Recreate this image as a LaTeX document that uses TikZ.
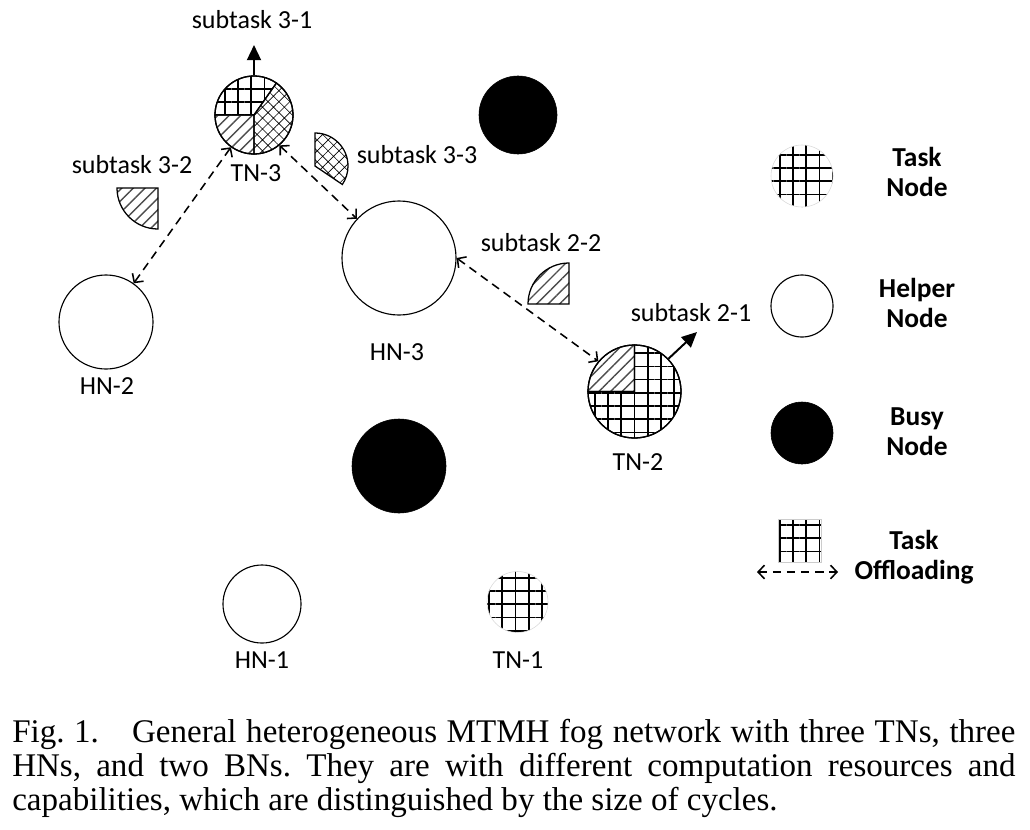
\documentclass[tikz,border=0pt]{standalone}
\usepackage{fontspec}
\setmainfont{Liberation Serif}
\newfontfamily\labelfont{Carlito}
\usetikzlibrary{arrows.meta,patterns.meta}

\begin{document}
\begin{tikzpicture}[x=0.025cm,y=0.025cm,
  txt/.style={font=\labelfont\fontsize{18.5}{21}\selectfont, inner sep=0},
  legtxt/.style={font=\labelfont\bfseries\fontsize{19.5}{21.5}\selectfont, align=center, inner sep=0},
  helper/.style={draw, circle, line width=0.8pt, inner sep=0},
  busy/.style={draw, circle, fill=black, inner sep=0},
  task/.style={draw, circle, line width=0.9pt, inner sep=0},
  gridfill/.style={pattern={Hatch[angle=0,distance=9.4pt,line width=1.2pt]}},
  hatchfill/.style={pattern={Lines[angle=45,distance=5.8pt,line width=1pt]}, pattern color=black!70},
  crossfill/.style={pattern={Hatch[angle=45,distance=5.5pt,line width=0.45pt]}},
  offload/.style={draw, line width=1.1pt, dash pattern=on 6pt off 4pt,
    {Straight Barb[length=1.6mm,width=3.4mm]}-{Straight Barb[length=1.6mm,width=3.4mm]}},
  subtask/.style={draw, line width=1.4pt, -{Triangle[length=3.8mm,width=3.5mm]}}
]
\useasboundingbox (0,0) rectangle (1030,-829);

% nodes
\node[task, minimum size=1.95cm] (tn3) at (254,-115) {};
\node[task, minimum size=2.325cm] (tn2) at (634.5,-391.5) {};
\node[circle, draw=black!15, gridfill, inner sep=0, minimum size=1.525cm] (tn1) at (517.5,-602) {};
\node[helper, minimum size=2.35cm] (hn2) at (106,-322) {};
\node[helper, minimum size=2.85cm] (hn3) at (399,-258) {};
\node[helper, minimum size=1.95cm] (hn1) at (262,-604) {};
\node[busy, minimum size=1.95cm] (bn1) at (518,-115) {};
\node[busy, minimum size=2.35cm] (bn2) at (399,-466) {};

% parts of the task nodes
\draw[gridfill, line width=0.9pt] (tn3.center) -- ++(55:39) arc[start angle=55,end angle=180,radius=39] -- cycle;
\draw[hatchfill, line width=0.9pt] (tn3.center) -- ++(180:39) arc[start angle=180,end angle=270,radius=39] -- cycle;
\draw[crossfill, line width=0.9pt] (tn3.center) -- ++(270:39) arc[start angle=270,end angle=415,radius=39] -- cycle;
\draw[hatchfill, line width=0.9pt] (tn2.center) -- ++(90:46.5) arc[start angle=90,end angle=180,radius=46.5] -- cycle;
\draw[gridfill, line width=0.9pt] (tn2.center) -- ++(180:46.5) arc[start angle=180,end angle=450,radius=46.5] -- cycle;

% subtasks
\draw[hatchfill, line width=0.9pt] (158,-188) -- ++(180:41) arc[start angle=180,end angle=270,radius=41] -- cycle;
\draw[crossfill, line width=0.9pt] (315,-166) -- ++(90:33) arc[start angle=90,end angle=-34,radius=33] -- cycle;
\draw[hatchfill, line width=0.9pt] (569,-304) -- ++(90:41) arc[start angle=90,end angle=180,radius=41] -- cycle;

\coordinate (st31) at (254,-45);
\coordinate (st21) at (697,-332);
\path[subtask] (tn3.north) -- (st31);
\path[subtask] (tn2.44) -- (st21);

\path[offload] (tn3) -- (hn2);
\path[offload] (tn3.-50) -- (hn3.137);
\path[offload] (hn3.east) -- (tn2.140);

% labels
\node[txt] (l31) at (252,-20) {subtask 3-1};
\node[txt] (l32) at (132,-165) {subtask 3-2};
\node[txt] (l33) at (417,-155) {subtask 3-3};
\node[txt] (l22) at (541,-243) {subtask 2-2};
\node[txt] (l21) at (691,-313) {subtask 2-1};
\node[txt] (ltn3) at (256,-173) {TN-3};
\node[txt] (ltn2) at (638,-462) {TN-2};
\node[txt] (ltn1) at (518,-660) {TN-1};
\node[txt] (lhn3) at (397,-352) {HN-3};
\node[txt] (lhn2) at (107,-386) {HN-2};
\node[txt] (lhn1) at (262,-660) {HN-1};

% legend
\node[circle, draw=black!15, gridfill, inner sep=0, minimum size=1.55cm] (lgtask) at (802,-176) {};
\node[helper, minimum size=1.55cm] (lghelp) at (802,-306) {};
\node[busy, minimum size=1.55cm] (lgbusy) at (802,-433) {};
\node[draw=black!20, gridfill, inner sep=0, minimum size=1.075cm] (lgoff) at (800,-541) {};
\coordinate (lgl) at (757,-572);
\coordinate (lgr) at (838,-572);
\path[offload] (lgl) -- (lgr);
\node[legtxt] (lttask) at (917,-172) {Task\\Node};
\node[legtxt] (lthelp) at (917,-303) {Helper\\Node};
\node[legtxt] (ltbusy) at (917,-432) {Busy\\Node};
\node[legtxt] (ltoff) at (914,-557) {Task\\Offloading};

% caption
\node[anchor=north west, inner sep=0, text width=25.075cm, align=justify,
  font=\fontsize{23.5}{24.2}\selectfont\frenchspacing] (cap) at (12,-719)
  {Fig.~1.\quad General heterogeneous MTMH fog network with three TNs, three\linebreak
   HNs, and two BNs. They are with different computation resources and\linebreak
   capabilities, which are distinguished by the size of cycles.};
\end{tikzpicture}
\end{document}
